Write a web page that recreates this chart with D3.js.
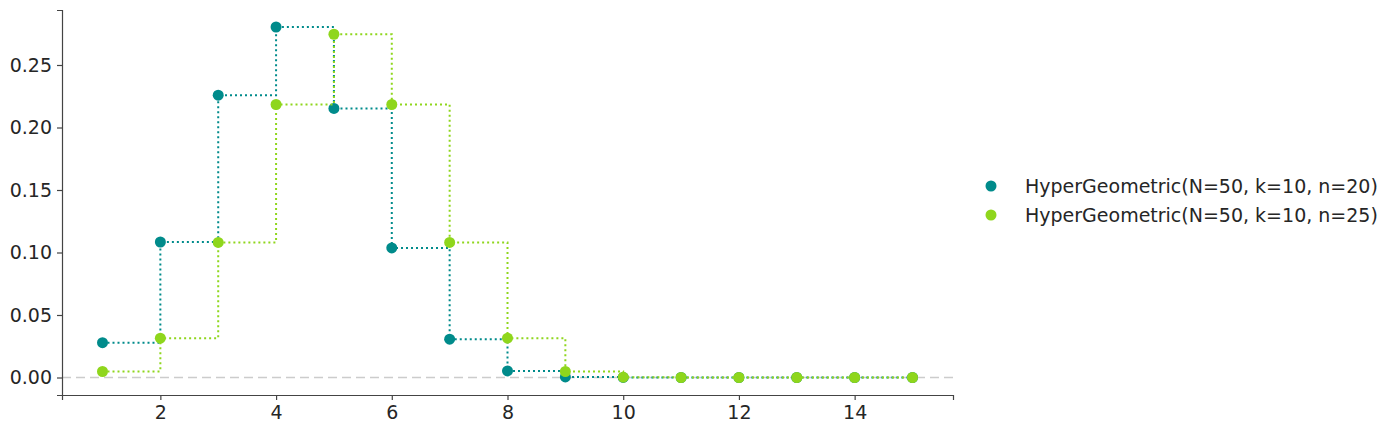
<!DOCTYPE html>
<html>
<head>
<meta charset="utf-8">
<script src="https://cdn.jsdelivr.net/npm/d3@7"></script>
<style>
  body { margin: 0; background: #fff; }
  svg { display: block; font-family: "DejaVu Sans", sans-serif; }
</style>
</head>
<body>
<div class="container"></div>
<script>
(function(d3) {
  "use strict";

  var xValues = [1, 2, 3, 4, 5, 6, 7, 8, 9, 10, 11, 12, 13, 14, 15];

  var pmfN20 = [0.0279, 0.1084, 0.2259, 0.2804, 0.2153, 0.1037, 0.0307, 0.0053, 0.0005, 0.00002, 0, 0, 0, 0, 0];
  var pmfN25 = [0.0048, 0.0315, 0.1081, 0.2184, 0.2746, 0.2184, 0.1081, 0.0315, 0.0048, 0.0003, 0, 0, 0, 0, 0];

  var seriesNames = [
    "HyperGeometric(N=50, k=10, n=20)",
    "HyperGeometric(N=50, k=10, n=25)"
  ];
  var seriesColors = ["#008b8b", "#8fd61c"];

  var xTicks = [2, 4, 6, 8, 10, 12, 14];
  var yTicks = [0, 0.05, 0.10, 0.15, 0.20, 0.25];

  var width = 1394, height = 434;
  var left = 62, right = 953, top = 10, bottom = 395;

  var x = d3.scaleLinear().domain([0.3, 15.7]).range([left, right]);
  var y = d3.scaleLinear().domain([-0.014, 0.294]).range([bottom, top]);

  var svg = d3.select(".container").append("svg")
      .attr("width", width)
      .attr("height", height);

  // zero reference line
  svg.append("line")
      .attr("x1", left).attr("x2", right)
      .attr("y1", y(0)).attr("y2", y(0))
      .style("stroke", "#cccccc")
      .style("stroke-width", 1.5)
      .style("stroke-dasharray", "9,5");

  var series = [pmfN20, pmfN25].map(function(vals, i) {
    return {
      name: seriesNames[i],
      color: seriesColors[i],
      points: vals.map(function(v, j) { return { x: xValues[j], y: v }; })
    };
  });

  var line = d3.line()
      .x(function(d) { return x(d.x); })
      .y(function(d) { return y(d.y); })
      .curve(d3.curveStepAfter);

  var groups = svg.selectAll(".series")
      .data(series)
    .enter().append("g")
      .attr("class", "series");

  groups.append("path")
      .attr("d", function(d) { return line(d.points); })
      .style("fill", "none")
      .style("stroke", function(d) { return d.color; })
      .style("stroke-width", 2)
      .style("stroke-dasharray", "2,3");

  groups.selectAll("circle")
      .data(function(d) { return d.points.map(function(p) { return { p: p, color: d.color }; }); })
    .enter().append("circle")
      .attr("cx", function(d) { return x(d.p.x); })
      .attr("cy", function(d) { return y(d.p.y); })
      .attr("r", 5.5)
      .style("fill", function(d) { return d.color; });

  // axes
  var xAxis = svg.append("g")
      .attr("transform", "translate(0," + bottom + ")")
      .call(d3.axisBottom(x).tickValues(xTicks).tickFormat(d3.format("d")).tickSizeOuter(0).tickSize(5).tickPadding(6));

  var yAxis = svg.append("g")
      .attr("transform", "translate(" + left + ",0)")
      .call(d3.axisLeft(y).tickValues(yTicks).tickFormat(d3.format(".2f")).tickSizeOuter(0).tickSize(5).tickPadding(5));

  [xAxis, yAxis].forEach(function(ax) {
    ax.select(".domain").style("stroke", "#444").style("stroke-width", 1.2);
    ax.selectAll(".tick line").style("stroke", "#444").style("stroke-width", 1.2);
    ax.selectAll(".tick text")
        .style("font-family", "DejaVu Sans, sans-serif")
        .style("font-size", "19px")
        .style("fill", "#262626");
  });

  // legend
  var legend = svg.append("g")
      .selectAll(".legend-item")
      .data(series)
    .enter().append("g")
      .attr("transform", function(d, i) { return "translate(991," + (186 + i * 29) + ")"; });

  legend.append("circle")
      .attr("r", 5.5)
      .style("fill", function(d) { return d.color; });

  legend.append("text")
      .attr("x", 34)
      .attr("dy", "0.35em")
      .style("font-size", "19px")
      .style("fill", "#262626")
      .text(function(d) { return d.name; });

}(d3));
</script>
</body>
</html>
